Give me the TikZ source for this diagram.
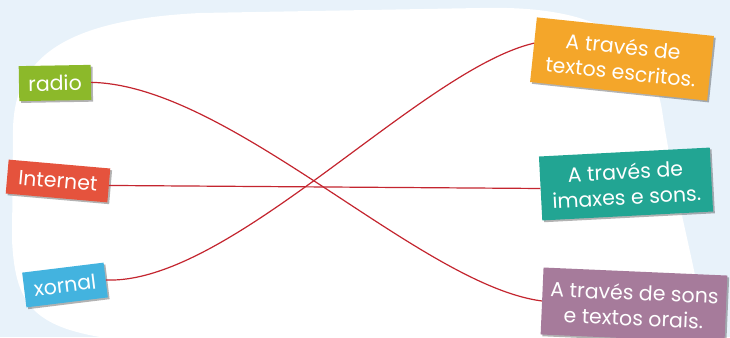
\documentclass[tikz,border=0pt]{standalone}
\usepackage{fontspec}
\setmainfont{Poppins}
\usetikzlibrary{shadows,calc}
\definecolor{bgblue}{HTML}{E8F2FA}
\definecolor{cgreen}{HTML}{8CB92A}
\definecolor{cred}{HTML}{E5533D}
\definecolor{ccyan}{HTML}{43B3DF}
\definecolor{corange}{HTML}{F4A62A}
\definecolor{cteal}{HTML}{22A593}
\definecolor{cpurple}{HTML}{A67B9B}
\definecolor{linered}{HTML}{C4252F}
\tikzset{
  card/.style={text=white, align=center, inner sep=0pt,
    font=\fontsize{20.5}{25.5}\selectfont,
    drop shadow={shadow xshift=1.8pt, shadow yshift=-1.8pt, fill=black, opacity=0.3}},
  link/.style={draw=linered, line width=1.2pt}
}
\begin{document}
\begin{tikzpicture}[x=1pt,y=-1pt]
\useasboundingbox (0,0) rectangle (730,337);
\fill[bgblue] (0,0) rectangle (730,337);
\fill[white] (100,337) .. controls (30,325) and (15,300) .. (12,240)
  -- (13,130) .. controls (14,60) and (60,20) .. (200,13)
  -- (480,8) .. controls (600,5) and (650,40) .. (662,110)
  .. controls (675,200) and (700,280) .. (705,337) -- cycle;
% left cards
\node[card, fill=cgreen, minimum width=72pt, minimum height=35pt, rotate=1] (radio) at (55,83) {radio};
\node[card, fill=cred, minimum width=102pt, minimum height=34pt, rotate=-5] (internet) at (58,181) {Internet};
\node[card, fill=ccyan, minimum width=82pt, minimum height=35pt, rotate=7] (xornal) at (65,285) {xornal};
% right cards
\node[card, fill=corange, minimum width=178pt, minimum height=65pt, rotate=-6] (escritos) at (622,59) {A través de\\textos escritos.};
\node[card, fill=cteal, minimum width=171pt, minimum height=64pt, rotate=3] (imaxes) at (626,184) {A través de\\imaxes e sons.};
\node[card, fill=cpurple, minimum width=184pt, minimum height=67pt, rotate=-2.5] (orais) at (634,305) {A través de sons\\e textos orais.};
% connectors
\draw[link] (radio.east) .. controls (230,85) and (420,285) .. (orais.west);
\draw[link] (internet.east) -- (imaxes.west);
\draw[link] (xornal.east) .. controls (230,285) and (420,70) .. ($(escritos.north west)!0.4!(escritos.south west)$);
\end{tikzpicture}
\end{document}
